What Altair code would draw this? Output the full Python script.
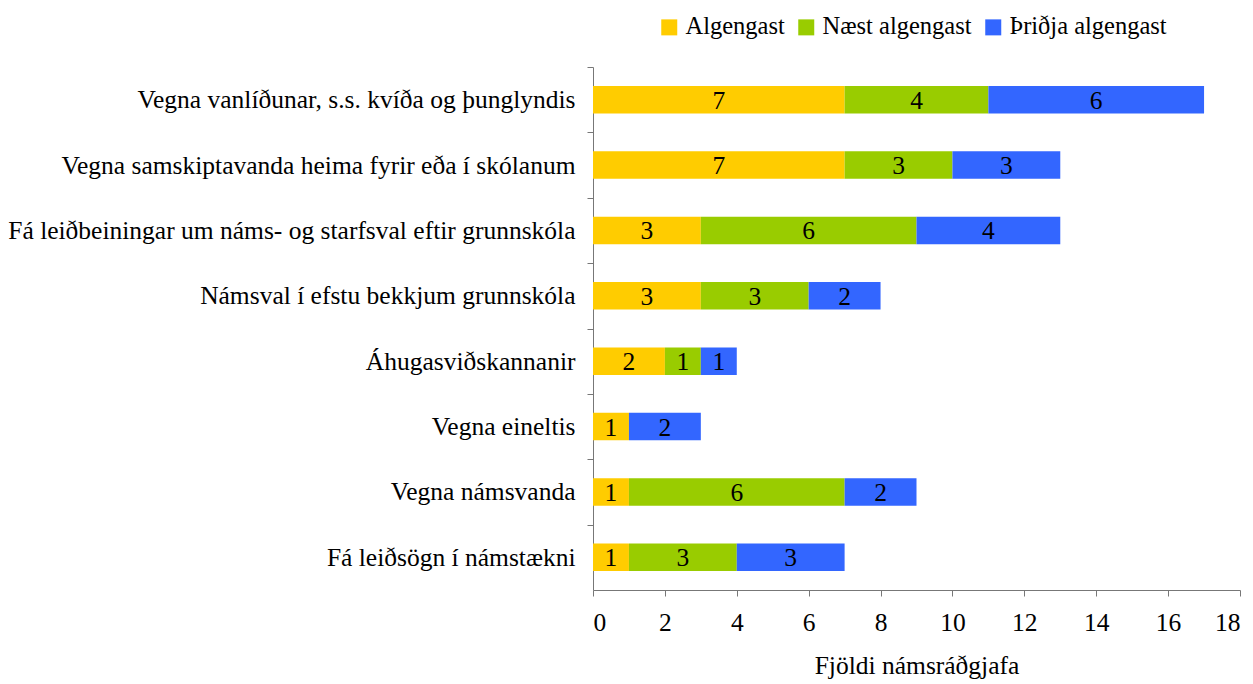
import altair as alt
import pandas as pd

categories = [
    "Vegna vanlíðunar, s.s. kvíða og þunglyndis",
    "Vegna samskiptavanda heima fyrir eða í skólanum",
    "Fá leiðbeiningar um náms- og starfsval eftir grunnskóla",
    "Námsval í efstu bekkjum grunnskóla",
    "Áhugasviðskannanir",
    "Vegna eineltis",
    "Vegna námsvanda",
    "Fá leiðsögn í námstækni",
]
series = ["Algengast", "Næst algengast", "Þriðja algengast"]
algengast = [7, 7, 3, 3, 2, 1, 1, 1]
naest = [4, 3, 6, 3, 1, 0, 6, 3]
thridja = [6, 3, 4, 2, 1, 2, 2, 3]
colors = ["#FFCC00", "#99CC00", "#3366FF"]
x_ticks = list(range(0, 19, 2))

rows = []
for i, c in enumerate(categories):
    for j, (s, vals) in enumerate(zip(series, [algengast, naest, thridja])):
        rows.append({"cat": c, "series": s, "order": j, "value": vals[i]})
df = pd.DataFrame(rows)

FONT = "Liberation Serif, Times New Roman, serif"
FS = 25.5

base = alt.Chart(df).transform_filter(
    alt.datum.value > 0
).transform_stack(
    stack="value", as_=["x0", "x1"], groupby=["cat"], sort=[alt.SortField("order")]
).transform_calculate(
    mid="(datum.x0 + datum.x1) / 2"
)

band = 523 / 8

y_enc = alt.Y(
    "cat:N", sort=categories, title=None,
    scale=alt.Scale(paddingInner=0.58, paddingOuter=0.29),
    axis=alt.Axis(
        labelFont=FONT, labelFontSize=FS, labelColor="black",
        tickSize=6, tickColor="#777", domainColor="#777",
        tickOffset=-band / 2, labelOffset=band / 2,
        labelPadding=12, labelLimit=700,
    ),
)

bars = base.mark_bar().encode(
    y=y_enc,
    x=alt.X(
        "x0:Q", title="Fjöldi námsráðgjafa",
        scale=alt.Scale(domain=[0, 18], nice=False),
        axis=alt.Axis(
            values=x_ticks, grid=False, tickSize=6, tickColor="#777",
            domainColor="#777", labelFont=FONT, labelFontSize=FS,
            labelColor="black", labelPadding=14, titleFont=FONT,
            titleFontSize=FS, titleFontWeight="normal", titleColor="black",
            titlePadding=18,
        ),
    ),
    x2="x1:Q",
    color=alt.Color(
        "series:N", sort=series,
        scale=alt.Scale(domain=series, range=colors),
        legend=alt.Legend(
            title=None, orient="none", legendX=64, legendY=-52,
            direction="horizontal", symbolType="square", symbolSize=256,
            symbolStrokeWidth=0, symbolOpacity=1,
            labelFont=FONT, labelFontSize=24.5, labelColor="black",
            labelLimit=400, columnPadding=9, labelOffset=4, padding=0,
        ),
    ),
)

labels = base.mark_text(font=FONT, fontSize=FS, color="black", baseline="middle", dy=1).encode(
    y=alt.Y("cat:N", sort=categories),
    x=alt.X("mid:Q"),
    text=alt.Text("value:Q"),
)

chart = alt.layer(bars, labels).properties(
    width=647, height=523,
    autosize=alt.AutoSizeParams(type="none"),
    padding={"left": 585, "top": 59, "right": 5, "bottom": 90},
).configure_view(stroke=None)

chart.save("out.html", embed_options={"renderer": "svg", "actions": False})
